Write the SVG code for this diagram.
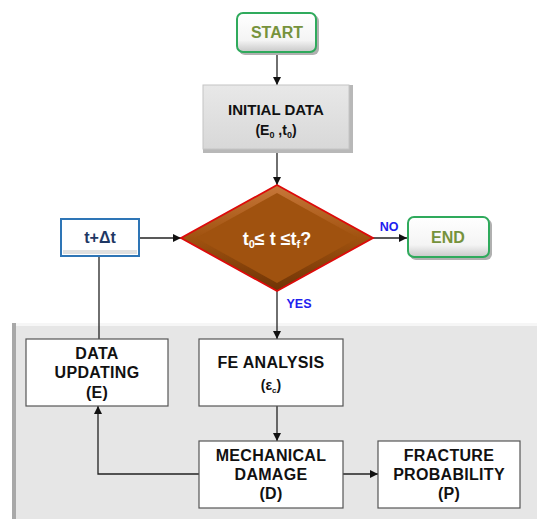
<svg xmlns="http://www.w3.org/2000/svg" width="537" height="519" viewBox="0 0 537 519">
<defs>
<style>
.t{font-family:"Liberation Sans",Arial,sans-serif;font-weight:bold;text-anchor:middle}
.box{fill:#ffffff;stroke:#555555;stroke-width:1.2}
.lbl{font-size:16px;fill:#111111;letter-spacing:0.3px}
.edge{fill:none;stroke:#222222;stroke-width:1.3}
.blue{fill:#2020ee;font-size:12.5px}
.green{fill:#76923c;font-size:16px}
</style>
<linearGradient id="gw" x1="0" y1="0" x2="0" y2="1"><stop offset="0" stop-color="#ffffff"/><stop offset="0.7" stop-color="#f4f4f4"/><stop offset="1" stop-color="#c8c8c8"/></linearGradient>
<linearGradient id="gg" x1="0" y1="0" x2="0" y2="1"><stop offset="0" stop-color="#e8e8e8"/><stop offset="1" stop-color="#d8d8d8"/></linearGradient>
<linearGradient id="gd" x1="0" y1="0" x2="0" y2="1"><stop offset="0" stop-color="#c8783a"/><stop offset="0.5" stop-color="#a0520f"/><stop offset="1" stop-color="#6e3406"/></linearGradient>
<marker id="ah" viewBox="0 0 10 10" refX="10" refY="5" markerWidth="8" markerHeight="8" markerUnits="userSpaceOnUse" orient="auto"><path d="M0,0 L10,5 L0,10 z" fill="#111111"/></marker>
</defs>
<rect width="537" height="519" fill="#ffffff"/>
<g id="panel">
<rect x="12" y="323" width="530" height="196" fill="#e6e6e6"/>
<rect x="12" y="323" width="530" height="3" fill="#f6f6f6"/>
<rect x="12" y="323" width="4" height="196" fill="#a8a8a8"/>
</g>
<g id="connectors">
<path class="edge" d="M277,53 V85" marker-end="url(#ah)"/>
<path class="edge" d="M277,153 V185" marker-end="url(#ah)"/>
<path class="edge" d="M139,238 H181" marker-end="url(#ah)"/>
<path class="edge" d="M373,238 H407" marker-end="url(#ah)"/>
<path class="edge" d="M277,290 V339" marker-end="url(#ah)"/>
<path class="edge" d="M277,406 V441" marker-end="url(#ah)"/>
<path class="edge" d="M343,474 H378" marker-end="url(#ah)"/>
<path class="edge" d="M199,474 H98 V406" marker-end="url(#ah)"/>
<path class="edge" d="M99,256 V339"/>
<text class="t blue" x="389" y="231">NO</text>
<text class="t blue" x="299" y="308">YES</text>
</g>
<g id="start">
<rect x="239" y="15" width="80" height="40" rx="6" fill="#b0b0b0"/>
<rect x="237" y="13" width="79" height="39" rx="6" fill="url(#gw)" stroke="#2faa5c" stroke-width="2"/>
<text class="t green" x="277" y="38">START</text>
</g>
<g id="initial">
<rect x="203" y="85" width="150" height="68" fill="#b8b8b8"/>
<rect x="203" y="85" width="146" height="64" fill="url(#gg)" stroke="#c4c4c4" stroke-width="1"/>
<text class="t" x="276" y="115" font-size="15" fill="#111">INITIAL DATA</text>
<text class="t" x="276" y="135" font-size="14" fill="#111">(E<tspan font-size="9" dy="3">0</tspan><tspan dy="-3"> ,t</tspan><tspan font-size="9" dy="3">0</tspan><tspan dy="-3">)</tspan></text>
</g>
<g id="decision">
<polygon points="277,185 373,238 277,291 181,238" fill="url(#gd)" stroke="#dd0a0a" stroke-width="1.8"/>
<polygon points="277,193 358,238 277,283 196,238" fill="#a0520f"/>
<text class="t" x="277" y="245" font-size="18" fill="#ffffff">t<tspan font-size="11" dy="3">0</tspan><tspan dy="-3">≤ t ≤t</tspan><tspan font-size="11" dy="3">f</tspan><tspan dy="-3">?</tspan></text>
</g>
<g id="dt">
<rect x="61" y="219" width="78" height="37" fill="#ffffff" stroke="#2e75b6" stroke-width="2"/>
<rect x="63" y="250" width="74" height="4" fill="#e0e0e0"/>
<text class="t" x="100" y="243" font-size="16" fill="#1f3864">t+Δt</text>
</g>
<g id="end">
<rect x="410" y="219" width="82" height="41" rx="6" fill="#b0b0b0"/>
<rect x="408" y="217" width="81" height="40" rx="6" fill="url(#gw)" stroke="#2faa5c" stroke-width="2"/>
<text class="t green" x="448" y="243">END</text>
</g>
<g id="update">
<rect class="box" x="26" y="339" width="142" height="67"/>
<text class="t lbl" x="97" y="359">DATA</text>
<text class="t lbl" x="97" y="378">UPDATING</text>
<text class="t lbl" x="97" y="398">(E)</text>
</g>
<g id="fe">
<rect class="box" x="199" y="339" width="144" height="67"/>
<text class="t lbl" x="271" y="368">FE ANALYSIS</text>
<text class="t" x="271" y="390" font-size="14" fill="#111">(ε<tspan font-size="8" dy="3">c</tspan><tspan dy="-3">)</tspan></text>
</g>
<g id="damage">
<rect class="box" x="199" y="441" width="144" height="67"/>
<text class="t lbl" x="271" y="461">MECHANICAL</text>
<text class="t lbl" x="271" y="480">DAMAGE</text>
<text class="t lbl" x="271" y="499">(D)</text>
</g>
<g id="fracture">
<rect class="box" x="378" y="441" width="142" height="67"/>
<text class="t lbl" x="449" y="461">FRACTURE</text>
<text class="t lbl" x="449" y="480">PROBABILITY</text>
<text class="t lbl" x="449" y="499">(P)</text>
</g>
</svg>
